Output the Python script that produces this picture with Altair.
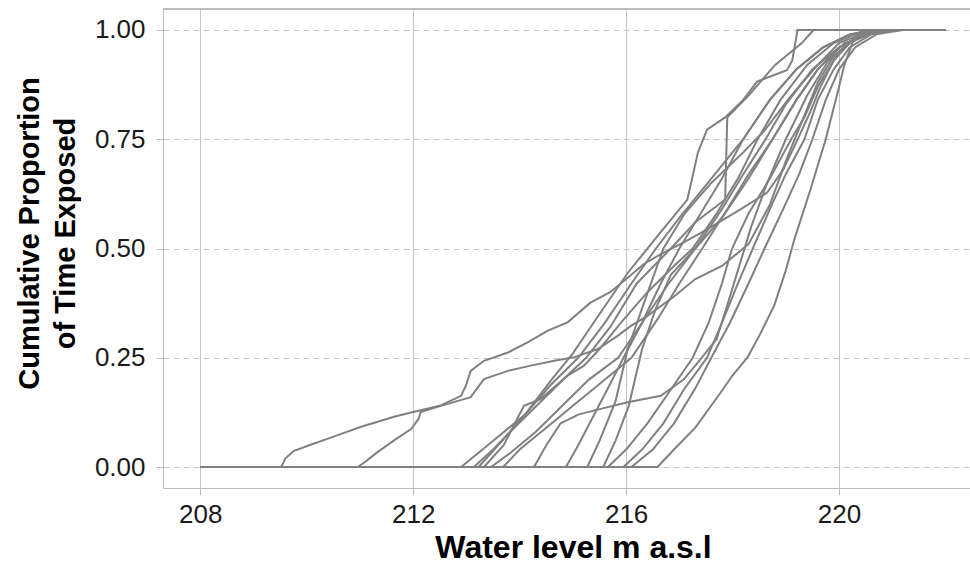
import altair as alt
import pandas as pd

# ---- data: each curve is a list of (water level, cumulative proportion) vertices
c01 = [(208, 0), (209.52, 0), (209.6, 0.02), (209.76, 0.037), (210.1, 0.052), (210.4, 0.065), (210.7, 0.078),
       (211.02, 0.092), (211.35, 0.104), (211.64, 0.115), (212.0, 0.126), (212.5, 0.14), (212.9, 0.163),
       (212.99, 0.186), (213.08, 0.22), (213.33, 0.243), (213.78, 0.262), (214.15, 0.285), (214.53, 0.312),
       (214.9, 0.331), (215.33, 0.376), (215.7, 0.40), (216.03, 0.433), (216.33, 0.464), (216.65, 0.487),
       (217.1, 0.515), (217.52, 0.544), (218.14, 0.589), (218.65, 0.628), (218.95, 0.68), (219.22, 0.749),
       (219.45, 0.81), (219.65, 0.87), (219.97, 0.947), (220.35, 0.99), (220.8, 1), (222, 1)]
c02 = [(208, 0), (210.96, 0), (211.1, 0.012), (211.33, 0.034), (211.64, 0.061), (211.96, 0.087), (212.1, 0.11),
       (212.14, 0.126), (212.52, 0.14), (213.08, 0.16), (213.33, 0.201), (213.78, 0.22), (214.21, 0.232),
       (214.65, 0.243), (215.02, 0.251), (215.47, 0.27), (215.84, 0.30), (216.09, 0.323), (216.4, 0.346),
       (216.9, 0.39), (217.3, 0.43), (217.8, 0.46), (218.3, 0.51), (218.7, 0.6), (219.0, 0.7), (219.3, 0.79),
       (219.6, 0.88), (219.9, 0.94), (220.3, 0.98), (220.8, 1), (222, 1)]
c03 = [(208, 0), (212.9, 0), (213.2, 0.03), (213.6, 0.07), (214.1, 0.12), (214.6, 0.19), (215.1, 0.25),
       (215.6, 0.33), (216.1, 0.42), (216.56, 0.5), (217.0, 0.57), (217.6, 0.66), (218.2, 0.75), (218.7, 0.84),
       (219.2, 0.91), (219.7, 0.96), (220.2, 0.99), (220.6, 1), (222, 1)]
c04 = [(208, 0), (213.14, 0), (213.5, 0.04), (213.9, 0.09), (214.4, 0.15), (214.9, 0.21), (215.25, 0.25),
       (215.7, 0.32), (216.2, 0.42), (216.84, 0.5), (217.3, 0.56), (217.86, 0.612), (217.9, 0.80), (218.3, 0.85),
       (218.8, 0.92), (219.3, 0.97), (219.52, 1), (222, 1)]
c05 = [(208, 0), (213.23, 0), (213.6, 0.05), (214.1, 0.12), (214.6, 0.2), (215.0, 0.26), (215.5, 0.35),
       (216.03, 0.444), (216.6, 0.53), (217.15, 0.612), (217.35, 0.72), (217.52, 0.772), (217.86, 0.80),
       (218.2, 0.84), (218.46, 0.882), (219.02, 0.908), (219.12, 0.93), (219.22, 1), (222, 1)]
c06 = [(208, 0), (213.33, 0), (213.7, 0.05), (214.08, 0.14), (214.4, 0.156), (214.9, 0.209), (215.21, 0.232),
       (215.5, 0.27), (215.9, 0.33), (216.4, 0.4), (216.9, 0.46), (217.25, 0.5), (217.7, 0.58), (218.1, 0.66),
       (218.47, 0.75), (218.9, 0.84), (219.4, 0.92), (219.9, 0.97), (220.4, 0.995), (220.9, 1), (222, 1)]
c07 = [(208, 0), (213.46, 0), (213.8, 0.03), (214.3, 0.08), (214.8, 0.14), (215.3, 0.2), (215.85, 0.25),
       (216.3, 0.33), (216.8, 0.42), (217.3, 0.5), (217.8, 0.59), (218.2, 0.67), (218.62, 0.75), (219.0, 0.83),
       (219.5, 0.91), (220.0, 0.96), (220.5, 0.99), (221.0, 1), (222, 1)]
c08 = [(208, 0), (213.69, 0), (214.0, 0.04), (214.5, 0.09), (215.0, 0.14), (215.5, 0.19), (216.1, 0.25),
       (216.6, 0.34), (217.0, 0.42), (217.43, 0.5), (217.9, 0.59), (218.3, 0.67), (218.75, 0.75), (219.2, 0.84),
       (219.6, 0.91), (220.1, 0.97), (220.6, 0.99), (221.1, 1), (222, 1)]
c09 = [(208, 0), (214.87, 0), (215.1, 0.05), (215.4, 0.12), (215.7, 0.19), (215.95, 0.25), (216.3, 0.33),
       (216.65, 0.42), (217.0, 0.5), (217.4, 0.58), (217.8, 0.66), (218.2, 0.75), (218.7, 0.84), (219.2, 0.91),
       (219.7, 0.96), (220.2, 0.99), (220.7, 1), (222, 1)]
c10 = [(208, 0), (215.27, 0), (215.5, 0.06), (215.8, 0.15), (216.03, 0.27), (216.35, 0.38), (216.7, 0.5),
       (217.1, 0.58), (217.6, 0.65), (218.2, 0.72), (218.6, 0.77), (219.1, 0.85), (219.6, 0.92), (220.0, 0.97),
       (220.4, 0.99), (220.9, 1), (222, 1)]
c11 = [(208, 0), (215.57, 0), (215.8, 0.06), (216.05, 0.14), (216.3, 0.27), (216.55, 0.36), (216.84, 0.44),
       (217.3, 0.5), (217.8, 0.57), (218.3, 0.66), (218.75, 0.75), (219.2, 0.84), (219.6, 0.91), (220.0, 0.96),
       (220.5, 0.99), (221.0, 1), (222, 1)]
c12 = [(208, 0), (215.66, 0), (216.0, 0.04), (216.4, 0.1), (216.8, 0.17), (217.25, 0.25), (217.55, 0.33),
       (217.8, 0.42), (217.99, 0.5), (218.3, 0.58), (218.7, 0.66), (219.1, 0.75), (219.35, 0.8), (219.6, 0.87),
       (219.9, 0.93), (220.2, 0.97), (220.7, 1), (222, 1)]
c13 = [(208, 0), (215.95, 0), (216.3, 0.04), (216.7, 0.1), (217.1, 0.18), (217.52, 0.25), (217.8, 0.33),
       (218.1, 0.42), (218.38, 0.5), (218.7, 0.59), (219.0, 0.67), (219.35, 0.75), (219.6, 0.84), (219.9, 0.91),
       (220.2, 0.96), (220.6, 0.99), (221.1, 1), (222, 1)]
c14 = [(208, 0), (216.1, 0), (216.5, 0.04), (216.9, 0.1), (217.3, 0.18), (217.6, 0.25), (217.95, 0.33),
       (218.3, 0.42), (218.6, 0.5), (218.95, 0.59), (219.25, 0.67), (219.5, 0.75), (219.75, 0.84), (220.0, 0.91),
       (220.3, 0.96), (220.7, 0.99), (221.2, 1), (222, 1)]
c15 = [(208, 0), (214.27, 0), (214.5, 0.05), (214.77, 0.1), (215.1, 0.12), (215.52, 0.133), (216.03, 0.148),
       (216.65, 0.163), (217.08, 0.20), (217.4, 0.247), (217.7, 0.293), (217.9, 0.37), (218.1, 0.45),
       (218.35, 0.55), (218.65, 0.65), (219.0, 0.75), (219.4, 0.85), (219.8, 0.93), (220.3, 0.98), (220.8, 1),
       (222, 1)]
c16 = [(208, 0), (216.59, 0), (216.9, 0.04), (217.3, 0.09), (217.78, 0.171), (218.0, 0.21), (218.28, 0.251),
       (218.5, 0.3), (218.78, 0.369), (219.0, 0.45), (219.16, 0.521), (219.45, 0.63), (219.75, 0.75),
       (220.0, 0.87), (220.1, 0.92), (220.28, 0.98), (220.6, 1), (222, 1)]

curves = [c01, c02, c03, c04, c05, c06, c07, c08, c09, c10, c11, c12, c13, c14, c15, c16]

x_ticks = [208, 212, 216, 220]
y_ticks = [0.0, 0.25, 0.5, 0.75, 1.0]

rows = []
for ci, pts in enumerate(curves):
    for k, (xv, yv) in enumerate(pts):
        rows.append({"level": xv, "prop": yv, "curve": f"c{ci + 1:02d}", "k": k})
df = pd.DataFrame(rows)

# ---- layout constants
W, H = 807, 479
BORDER = "#bdbdbd"
GRID = "#c4c4c4"
FONT = "Liberation Sans"

x_enc = alt.X("level:Q",
              scale=alt.Scale(domain=[207.3, 222.46], nice=False, zero=False),
              axis=alt.Axis(values=x_ticks, format="d", title="Water level m a.s.l",
                            grid=True, gridColor=GRID, gridWidth=1,
                            domainColor=BORDER, tickColor=BORDER, tickSize=7,
                            labelFontSize=26, labelColor="#1a1a1a", labelPadding=6,
                            titleFontSize=32, titleFontWeight="bold", titleColor="#000000",
                            titlePadding=5, titleX=410))
y_enc = alt.Y("prop:Q",
              scale=alt.Scale(domain=[-0.048, 1.048], nice=False, zero=False),
              axis=alt.Axis(values=y_ticks, format=".2f",
                            title=["Cumulative Proportion", "of Time Exposed"],
                            grid=True, gridColor=GRID, gridWidth=1, gridDash=[6, 4],
                            domainColor=BORDER, tickColor=BORDER, tickSize=7,
                            labelFontSize=26, labelColor="#1a1a1a", labelPadding=11,
                            titleFontSize=29, titleFontWeight="bold", titleColor="#000000",
                            titleLineHeight=36, titlePadding=14, titleY=224))

lines = alt.Chart(df).mark_line(color="#808080", strokeWidth=2, clip=True).encode(
    x=x_enc, y=y_enc, detail="curve:N", order="k:Q")

top_border = alt.Chart(df).mark_rule(color=BORDER, strokeWidth=1).encode(
    x=alt.value(0), x2=alt.value(W), y=alt.value(0))

chart = alt.layer(lines, top_border).properties(
    width=W, height=H,
    autosize=alt.AutoSizeParams(type="none"),
    padding={"left": 163, "top": 9, "right": 0, "bottom": 77},
).configure(font=FONT, background="white").configure_view(stroke=None)

chart.save("out.html", embed_options={"renderer": "svg", "actions": False})
